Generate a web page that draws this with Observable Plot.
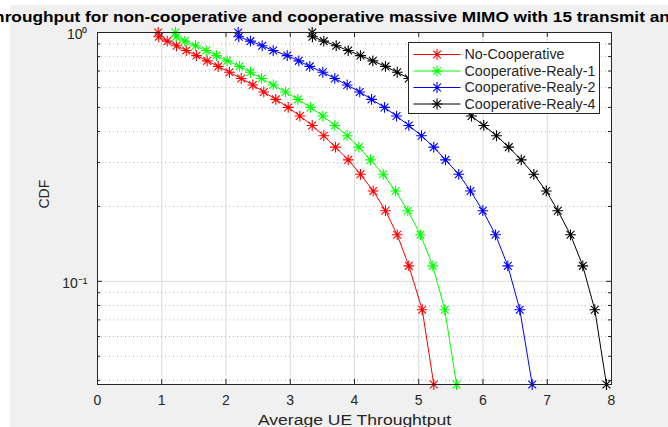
<!DOCTYPE html>
<html>
<head>
<meta charset="utf-8">
<script src="https://cdn.jsdelivr.net/npm/d3@7"></script>
<script src="https://cdn.jsdelivr.net/npm/@observablehq/plot@0.6"></script>
<style>
  html, body { margin: 0; padding: 0; background: #ffffff; }
  #chart svg { display: block; }
</style>
</head>
<body>
<div id="chart"></div>
<script>
// ---- data ----
const titleText = "Throughput for non-cooperative and cooperative massive MIMO with 15 transmit antennas";
const xLabel = "Average UE Throughtput";
const yLabel = "CDF";
const seriesNames = ["No-Cooperative", "Cooperative-Realy-1", "Cooperative-Realy-2", "Cooperative-Realy-4"];
const seriesColors = ["#ff0000", "#00ff00", "#0000ff", "#000000"];
const xTicks = [0, 1, 2, 3, 4, 5, 6, 7, 8];
const yMajorTicks = [0.1, 1];
const yMajorLabels = ["10\u207B\u00B9", "10\u2070"];
const yMinorTicks = [0.04, 0.05, 0.06, 0.07, 0.08, 0.09, 0.2, 0.3, 0.4, 0.5, 0.6, 0.7, 0.8, 0.9];
const cdfLevels = [1, 0.9615, 0.9231, 0.8846, 0.8462, 0.8077, 0.7692, 0.7308, 0.6923, 0.6538,
  0.6154, 0.5769, 0.5385, 0.5, 0.4615, 0.4231, 0.3846, 0.3462, 0.3077, 0.2692,
  0.2308, 0.1923, 0.1538, 0.1154, 0.0769, 0.0385];
const noCooperative = [0.945, 0.954, 1.085, 1.230, 1.381, 1.541, 1.707, 1.879, 2.054, 2.237,
  2.417, 2.588, 2.775, 2.968, 3.149, 3.342, 3.522, 3.704, 3.902, 4.093,
  4.291, 4.482, 4.665, 4.845, 5.054, 5.234];
const relay1 = [1.214, 1.225, 1.359, 1.525, 1.692, 1.852, 2.019, 2.210, 2.381, 2.553,
  2.735, 2.926, 3.118, 3.315, 3.507, 3.693, 3.886, 4.067, 4.249, 4.447,
  4.638, 4.830, 5.027, 5.219, 5.405, 5.588];
const relay2 = [2.190, 2.199, 2.381, 2.563, 2.735, 2.953, 3.133, 3.304, 3.507, 3.693,
  3.886, 4.082, 4.265, 4.467, 4.654, 4.845, 5.043, 5.234, 5.416, 5.623,
  5.805, 5.997, 6.195, 6.386, 6.573, 6.766];
const relay4 = [3.342, 3.345, 3.522, 3.715, 3.902, 4.093, 4.285, 4.482, 4.665, 4.845,
  5.043, 5.237, 5.432, 5.626, 5.821, 6.012, 6.210, 6.401, 6.595, 6.791,
  6.984, 7.164, 7.362, 7.553, 7.740, 7.922];

// ---- table for the library ----
const seriesValues = [noCooperative, relay1, relay2, relay4];
const rows = [];
seriesNames.forEach((name, i) => {
  seriesValues[i].forEach((x, j) => rows.push({series: name, x, cdf: cdfLevels[j]}));
});

// MATLAB-like 8-armed asterisk marker
const starSymbol = {
  draw(ctx, size) {
    const r = Math.sqrt(size / Math.PI);
    const d = r * 0.72;
    ctx.moveTo(-r, 0); ctx.lineTo(r, 0);
    ctx.moveTo(0, -r); ctx.lineTo(0, r);
    ctx.moveTo(-d, -d); ctx.lineTo(d, d);
    ctx.moveTo(-d, d); ctx.lineTo(d, -d);
  }
};

const ink = "#262626";
const font = "'Liberation Sans', Arial, Helvetica, sans-serif";

const chart = Plot.plot({
  width: 668,
  height: 427,
  marginLeft: 97,
  marginRight: 57,
  marginTop: 32,
  marginBottom: 43,
  style: {
    fontFamily: font,
    background: "linear-gradient(#f0f0f0, #f0f0f0) 10px 5px / 100% 100% no-repeat, #ffffff",
    color: ink
  },
  x: {domain: [0, 8], axis: null},
  y: {type: "log", domain: [0.0385, 1], axis: null},
  color: {domain: seriesNames, range: seriesColors},
  marks: [
    Plot.frame({fill: "#ffffff", stroke: "none"}),
    Plot.gridX(xTicks.slice(1, -1), {stroke: "#dcdcdc", strokeOpacity: 1, strokeWidth: 1}),
    Plot.gridY(yMinorTicks, {stroke: "#9a9a9a", strokeOpacity: 0.75, strokeWidth: 1, strokeDasharray: "1,3"}),
    Plot.gridY([0.1], {stroke: "#dcdcdc", strokeOpacity: 1, strokeWidth: 1}),
    Plot.line(rows, {x: "x", y: "cdf", z: "series", stroke: "series", strokeWidth: 1}),
    Plot.dot(rows, {x: "x", y: "cdf", stroke: "series", fill: "none", symbol: starSymbol, r: 5.4, strokeWidth: 1.1}),
    // inward tick marks
    Plot.tickX(xTicks, {x: d => d, stroke: ink, insetTop: 347}),
    Plot.tickX(xTicks, {x: d => d, stroke: ink, insetBottom: 347}),
    Plot.tickY(yMajorTicks, {y: d => d, stroke: ink, insetRight: 509}),
    Plot.tickY(yMajorTicks, {y: d => d, stroke: ink, insetLeft: 509}),
    Plot.tickY(yMinorTicks, {y: d => d, stroke: ink, insetRight: 511}),
    Plot.tickY(yMinorTicks, {y: d => d, stroke: ink, insetLeft: 511}),
    Plot.frame({stroke: ink, strokeWidth: 1}),
    // tick labels
    Plot.axisX(xTicks, {anchor: "bottom", tickSize: 0, tickPadding: 11, fontSize: 14, label: null, color: ink}),
    Plot.axisY(yMajorTicks, {anchor: "left", tickSize: 0, tickPadding: 10, dy: 2, fontSize: 14, label: null,
      tickFormat: d => yMajorLabels[yMajorTicks.indexOf(d)], color: ink}),
    // axis labels and title
    Plot.text([xLabel], {frameAnchor: "bottom", lineAnchor: "top", dy: 29, fontSize: 15.5, fill: ink, className: "xlab"}),
    Plot.text([yLabel], {frameAnchor: "left", rotate: -90, dx: -53, fontSize: 14, fill: ink}),
    Plot.text([titleText], {frameAnchor: "top", lineAnchor: "middle", dy: -15, fontSize: 15, fontWeight: "bold", fill: "#000000", className: "ttl"})
  ]
});

// legend box (inside the axes, upper right)
const svg = d3.select(chart);
const lg = svg.append("g").attr("transform", "translate(408.5,42.5)");
lg.append("rect").attr("width", 191).attr("height", 71).attr("fill", "#ffffff").attr("stroke", ink).attr("stroke-width", 1);
const rowY = [12, 28.5, 45, 61.5];
seriesNames.forEach((name, i) => {
  const g = lg.append("g").attr("transform", `translate(0,${rowY[i]})`);
  g.append("line").attr("x1", 5).attr("x2", 52).attr("y1", 0).attr("y2", 0)
    .attr("stroke", seriesColors[i]).attr("stroke-width", 1);
  const p = d3.path();
  starSymbol.draw(p, Math.PI * 5.4 * 5.4);
  g.append("path").attr("d", p.toString()).attr("transform", "translate(28.5,0)")
    .attr("stroke", seriesColors[i]).attr("fill", "none").attr("stroke-width", 1.1);
  g.append("text").attr("class", "legtext").attr("x", 56).attr("y", 0).attr("dy", "0.35em")
    .attr("text-anchor", "start")
    .attr("font-family", font).attr("font-size", 14).attr("fill", ink).text(name);
});

document.getElementById("chart").appendChild(chart);

// widen texts horizontally, as in the (horizontally stretched) reference image
function stretch(sel, factor) {
  sel.each(function () {
    const len = this.getComputedTextLength();
    d3.select(this).attr("textLength", len * factor).attr("lengthAdjust", "spacingAndGlyphs");
  });
}
stretch(svg.selectAll(".ttl text"), 1.15);
stretch(svg.selectAll(".xlab text"), 1.13);
stretch(svg.selectAll(".legtext"), 1.02);
</script>
</body>
</html>
